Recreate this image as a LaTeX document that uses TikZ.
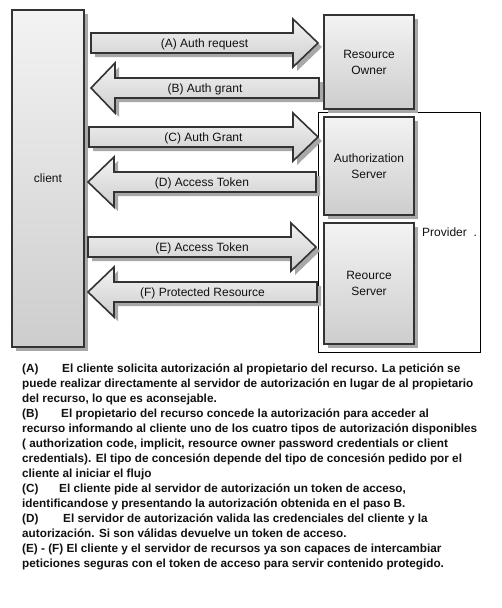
\documentclass[tikz,border=0pt]{standalone}
\usepackage{fontspec}
\setmainfont{Liberation Sans}
\usetikzlibrary{shadows}
\definecolor{edge}{HTML}{333333}
\definecolor{shad}{HTML}{A8A8A8}
\definecolor{topc}{HTML}{F3F3F3}
\definecolor{botc}{HTML}{CDCDCD}
\definecolor{txt}{HTML}{111111}
\newcommand\myRarrow[6]{% name, left, base, tip, yc, label
  \path[fill=shad,shift={(4,4)}] (#2,#5-10) -- (#3,#5-10) -- (#3,#5-24) -- (#4,#5) -- (#3,#5+24) -- (#3,#5+10) -- (#2,#5+10) -- cycle;
  \path[arrowbody] (#2,#5-10) -- (#3,#5-10) -- (#3,#5-24) -- (#4,#5) -- (#3,#5+24) -- (#3,#5+10) -- (#2,#5+10) -- cycle;
  \node[lbl] (#1) at ({(#2+#4)/2},#5) {#6};
}
\newcommand\myLarrow[6]{% name, tip, base, right, yc, label
  \path[fill=shad,shift={(4,4)}] (#2,#5) -- (#3,#5-25) -- (#3,#5-10) -- (#4,#5-10) -- (#4,#5+10) -- (#3,#5+10) -- (#3,#5+25) -- cycle;
  \path[arrowbody] (#2,#5) -- (#3,#5-25) -- (#3,#5-10) -- (#4,#5-10) -- (#4,#5+10) -- (#3,#5+10) -- (#3,#5+25) -- cycle;
  \node[lbl] (#1) at ({(#2+#4)/2},#5) {#6};
}
\begin{document}
\begin{tikzpicture}[x=1pt,y=-1pt,
  every node/.style={font=\fontsize{12}{16}\selectfont, text=txt},
  arrowbody/.style={draw=edge, line width=1.6pt, line join=miter, top color=topc, bottom color=botc},
  lbl/.style={inner sep=0pt, text height=8.6pt, text depth=0pt},
  box/.style={draw=edge, line width=1.6pt, top color=topc, bottom color=botc, align=center, inner sep=0pt,
    drop shadow={shadow xshift=4pt, shadow yshift=-4pt, fill=shad, opacity=1}},
  para/.style={anchor=base west, inner sep=0pt, font=\fontsize{11.75}{15}\selectfont\bfseries}]
\useasboundingbox[fill=white] (0,0) rectangle (501,608);

% provider frame
\node[draw=black, line width=0.8pt, fill=white, minimum width=162pt, minimum height=240pt, inner sep=0pt] (prov) at (399,232) {};
\node[anchor=west, inner sep=0pt] (provlbl) at (422,232) {Provider\ \ .};

% boxes
\node[box, minimum width=72pt, minimum height=337pt] (client) at (48,178.5) {client};
\node[box, minimum width=90pt, minimum height=94pt] (ro) at (369,62) {Resource\\Owner};
\node[box, minimum width=90pt, minimum height=98pt] (as) at (369,166) {Authorization\\Server};
\node[box, minimum width=90pt, minimum height=121pt] (rs) at (369,283.5) {Reource\\Server};

% arrows
\myRarrow{a}{91}{293}{318}{43}{(A) Auth request}
\myLarrow{b}{91}{115}{319}{88}{(B) Auth grant}
\myRarrow{c}{89}{293}{318}{137}{(C) Auth Grant}
\myLarrow{d}{88}{114}{316}{182}{(D) Access Token}
\myRarrow{e}{88}{291}{316}{247}{(E) Access Token}
\myLarrow{f}{88}{114}{317}{292}{(F) Protected Resource}

% explanation
\node[para] (t1a) at (22,372.5) {(A)};
\node[para] (t1) at (62,372.5) {El cliente solicita autorización al propietario del recurso. La petición se};
\node[para] (t2) at (22,387.5) {puede realizar directamente al servidor de autorización en lugar de al propietario};
\node[para] (t3) at (22,402.5) {del recurso, lo que es aconsejable.};
\node[para] (t4a) at (22,417.5) {(B)};
\node[para] (t4) at (61,417.5) {El propietario del recurso concede la autorización para acceder al};
\node[para] (t5) at (22,432.5) {recurso informando al cliente uno de los cuatro tipos de autorización disponibles};
\node[para] (t6) at (22,447.5) {( authorization code, implicit, resource owner password credentials or client};
\node[para] (t7) at (22,462.5) {credentials). El tipo de concesión depende del tipo de concesión pedido por el};
\node[para] (t8) at (22,477.5) {cliente al iniciar el flujo};
\node[para] (t9a) at (22,492.5) {(C)};
\node[para] (t9) at (59,492.5) {El cliente pide al servidor de autorización un token de acceso,};
\node[para] (t10) at (22,507.5) {identificandose y presentando la autorización obtenida en el paso B.};
\node[para] (t11a) at (22,522.5) {(D)};
\node[para] (t11) at (63,522.5) {El servidor de autorización valida las credenciales del cliente y la};
\node[para] (t12) at (22,537.5) {autorización. Si son válidas devuelve un token de acceso.};
\node[para] (t13) at (22,552.5) {(E) - (F) El cliente y el servidor de recursos ya son capaces de intercambiar};
\node[para] (t14) at (22,567.5) {peticiones seguras con el token de acceso para servir contenido protegido.};
\end{tikzpicture}
\end{document}
